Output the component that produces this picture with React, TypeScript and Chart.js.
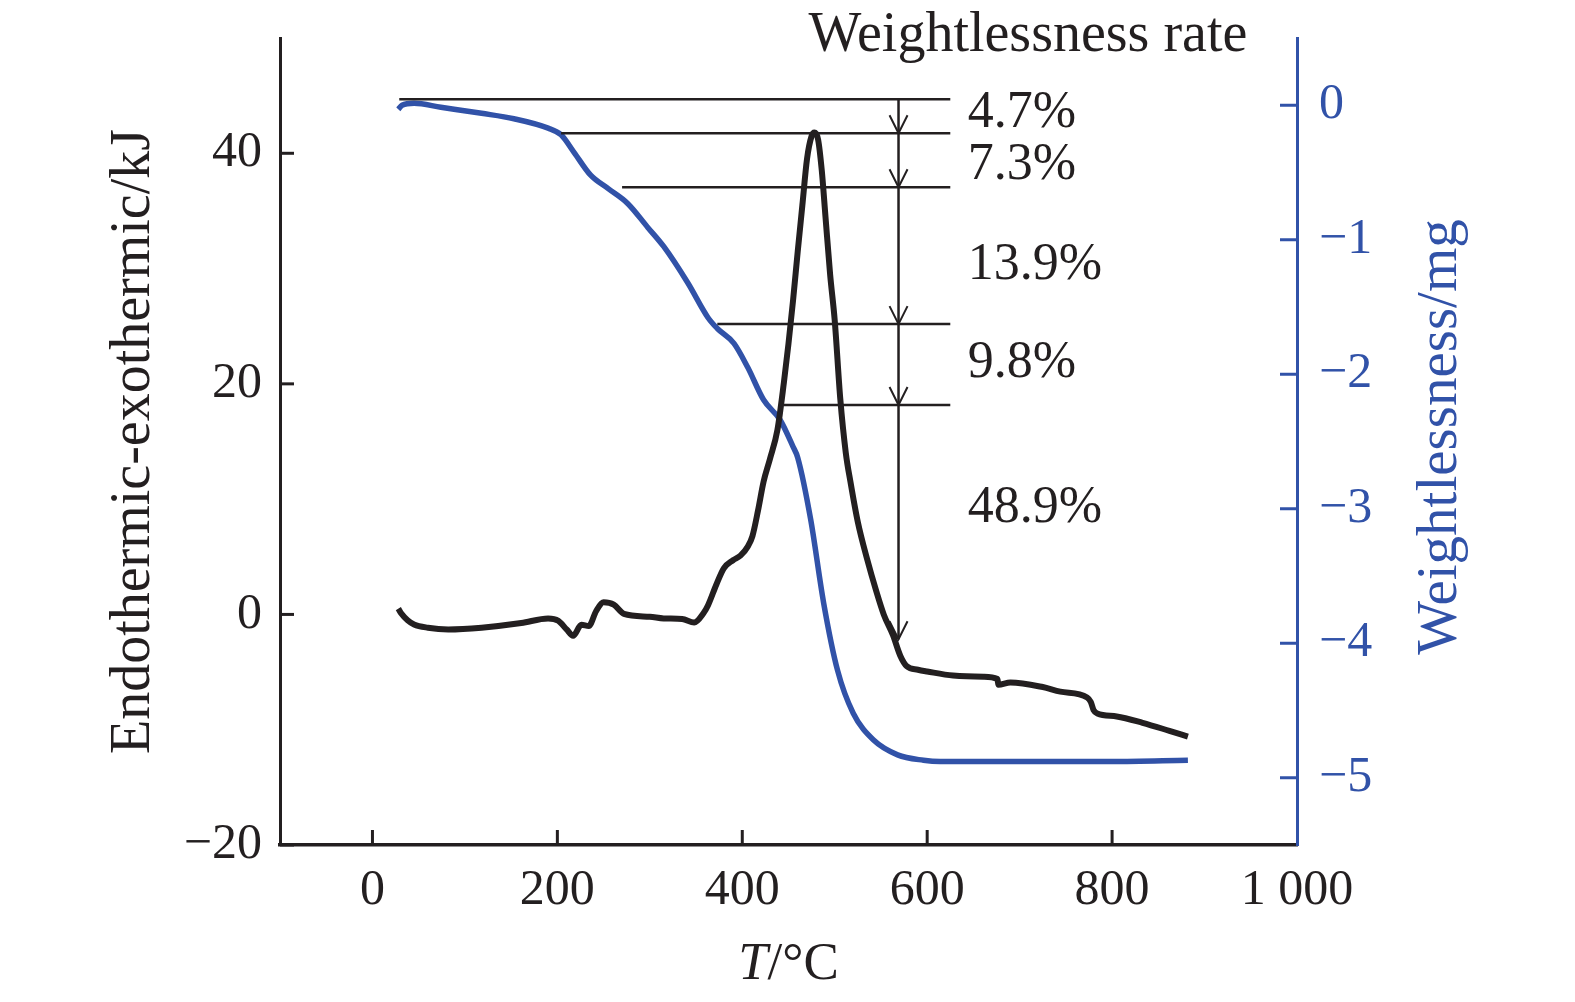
import { useEffect, useRef } from 'react';
import { Chart, registerables } from 'chart.js';

Chart.register(...registerables);

// ---- data ----
// DSC curve (black, left axis): temperature (°C) and heat flow (kJ)
const DSC_T = [28, 31, 38, 45, 60, 82, 118, 161, 190, 201, 210, 217, 226, 234, 242, 250, 261, 272, 300, 315, 335, 348, 358, 363, 372, 380, 390, 398, 406, 411, 417, 423, 430, 438, 445, 450, 455, 460, 465, 470, 475, 478, 482, 486, 490, 495, 500, 506, 512, 517, 525, 535, 545, 553, 563, 571, 578, 590, 600, 628, 661, 676, 677, 690, 725, 744, 773, 777, 780, 784, 805, 833, 862, 882];
const DSC_KJ = [0.5, 0.1, -0.5, -0.87, -1.15, -1.3, -1.15, -0.75, -0.35, -0.55, -1.3, -1.85, -0.9, -1.0, 0.3, 1.05, 0.85, 0.05, -0.2, -0.35, -0.4, -0.7, 0.1, 0.8, 2.6, 4.0, 4.7, 5.1, 5.9, 6.8, 9.0, 11.5, 13.5, 16.0, 20.1, 23.5, 27.3, 31.5, 35.5, 39.5, 41.5, 41.8, 41.2, 38.5, 34.5, 29.5, 25.5, 18.7, 14.0, 11.5, 8.0, 4.8, 2.0, 0.0, -1.8, -3.6, -4.5, -4.8, -4.95, -5.3, -5.4, -5.6, -6.1, -5.9, -6.3, -6.7, -7.2, -7.6, -8.3, -8.6, -8.85, -9.4, -10.1, -10.6];

// TG curve (blue, right axis): temperature (°C) and weight change (mg)
const TG_T = [28, 32, 45, 74, 118, 153, 190, 204, 218, 236, 255, 276, 298, 315, 341, 363, 373, 391, 406, 423, 441, 455, 460, 474, 488, 503, 520, 542, 568, 596, 614, 700, 800, 882];
const TG_MG = [-0.03, 0.0, 0.015, -0.015, -0.06, -0.1, -0.17, -0.22, -0.35, -0.52, -0.62, -0.73, -0.91, -1.05, -1.32, -1.58, -1.66, -1.77, -1.95, -2.19, -2.34, -2.54, -2.62, -3.08, -3.7, -4.2, -4.52, -4.72, -4.83, -4.87, -4.88, -4.88, -4.88, -4.87];

// tick values
const X_TICKS = [0, 200, 400, 600, 800, 1000];
const Y_TICKS = [-20, 0, 20, 40];
const Y2_TICKS = [-5, -4, -3, -2, -1, 0];

// weight-loss step levels (mg) and where each guide line starts (°C)
const LEVEL_MG = [0.045, -0.208, -0.61, -1.627, -2.229];
const LEVEL_START_T = [29, 204, 270, 373, 445];
const LEVEL_END_T = 625;
const ARROW_T = 569;
const ARROW_END_MG = -3.97;
const RATE_LABELS = ['4.7%', '7.3%', '13.9%', '9.8%', '48.9%'];
const RATE_TITLE = 'Weightlessness rate';

const X_TITLE_ITALIC = 'T';
const X_TITLE_REST = '/°C';
const Y_TITLE = 'Endothermic-exothermic/kJ';
const Y2_TITLE = 'Weightlessness/mg';

// ---- layout / style (not data) ----
const LABEL_POS_MG = [-0.06, -0.446, -1.19, -1.917, -2.994];
const LABEL_X_T = 644;
const TITLE_X_T = 709;
const TITLE_Y_MG = 0.51;

const FONT = "'Liberation Serif', 'Times New Roman', serif";
const INK = '#231f20';
const BLUE = '#3152a8';

const fmt = (v: number) => {
  if (v === 1000) return '1 000';
  return v < 0 ? '\u2212' + String(Math.abs(v)) : String(v);
};

const overlay = {
  id: 'overlay',
  afterDraw(chart: any) {
    const { ctx, chartArea } = chart;
    const x = chart.scales.x;
    const y2 = chart.scales.y2;
    const y = chart.scales.y;
    const seg = (x0: number, y0: number, x1: number, y1: number) => {
      ctx.beginPath();
      ctx.moveTo(x0, y0);
      ctx.lineTo(x1, y1);
      ctx.stroke();
    };
    ctx.save();
    ctx.lineCap = 'butt';
    // inward tick marks
    ctx.strokeStyle = INK;
    ctx.lineWidth = 3;
    x.ticks.forEach((t: any) => {
      if (t.value >= 1000) return;
      const px = x.getPixelForValue(t.value);
      seg(px, chartArea.bottom, px, chartArea.bottom - 15);
    });
    y.ticks.forEach((t: any) => {
      const py = y.getPixelForValue(t.value);
      seg(chartArea.left, py, chartArea.left + 14, py);
    });
    ctx.strokeStyle = BLUE;
    y2.ticks.forEach((t: any) => {
      const py = y2.getPixelForValue(t.value);
      seg(chartArea.right, py, chartArea.right - 17, py);
    });

    // guide lines
    ctx.strokeStyle = INK;
    ctx.lineWidth = 2.5;
    const xEnd = x.getPixelForValue(LEVEL_END_T);
    const ax = x.getPixelForValue(ARROW_T);
    LEVEL_MG.forEach((w, i) => {
      const py = y2.getPixelForValue(w);
      seg(x.getPixelForValue(LEVEL_START_T[i]), py, xEnd, py);
    });
    const yTop = y2.getPixelForValue(LEVEL_MG[0]);
    const yBot = y2.getPixelForValue(ARROW_END_MG);
    seg(ax, yTop, ax, yBot);
    const heads = LEVEL_MG.slice(1).concat([ARROW_END_MG]);
    ctx.lineWidth = 2;
    heads.forEach((w) => {
      const py = y2.getPixelForValue(w);
      ctx.beginPath();
      ctx.moveTo(ax - 9, py - 18);
      ctx.lineTo(ax, py);
      ctx.lineTo(ax + 9, py - 18);
      ctx.stroke();
    });

    // labels
    ctx.fillStyle = INK;
    ctx.font = `52px ${FONT}`;
    ctx.textAlign = 'left';
    ctx.textBaseline = 'middle';
    const lx = x.getPixelForValue(LABEL_X_T);
    RATE_LABELS.forEach((s, i) => {
      ctx.fillText(s, lx, y2.getPixelForValue(LABEL_POS_MG[i]));
    });
    ctx.textAlign = 'center';
    ctx.font = `56px ${FONT}`;
    ctx.fillText(RATE_TITLE, x.getPixelForValue(TITLE_X_T), y2.getPixelForValue(TITLE_Y_MG));

    // x axis title with italic T
    const cx = (chartArea.left + chartArea.right) / 2;
    const ty = 965;
    ctx.font = `italic 53px ${FONT}`;
    const wT = ctx.measureText(X_TITLE_ITALIC).width;
    ctx.font = `53px ${FONT}`;
    const wR = ctx.measureText(X_TITLE_REST).width;
    const start = cx - (wT + wR) / 2;
    ctx.textAlign = 'left';
    ctx.font = `italic 53px ${FONT}`;
    ctx.fillText(X_TITLE_ITALIC, start, ty);
    ctx.font = `53px ${FONT}`;
    ctx.fillText(X_TITLE_REST, start + wT, ty);

    // right axis title, reading bottom to top
    ctx.save();
    ctx.translate(1441, 437);
    ctx.rotate(-Math.PI / 2);
    ctx.textAlign = 'center';
    ctx.fillStyle = BLUE;
    ctx.font = `57px ${FONT}`;
    ctx.fillText(Y2_TITLE, 0, 0);
    ctx.restore();

    ctx.restore();
  },
};

const noPad = (s: any) => {
  s.paddingTop = 0;
  s.paddingBottom = 0;
  s.paddingLeft = 0;
  s.paddingRight = 0;
};

export default function App() {
  const ref = useRef<HTMLCanvasElement | null>(null);
  useEffect(() => {
    document.body.style.margin = '0';
    const canvas = ref.current;
    if (!canvas) return;
    const chart = new Chart(canvas, {
      type: 'line',
      data: {
        datasets: [
          {
            label: 'DSC',
            data: DSC_T.map((t, i) => ({ x: t, y: DSC_KJ[i] })),
            borderColor: INK,
            borderWidth: 6,
            pointRadius: 0,
            cubicInterpolationMode: 'monotone',
            yAxisID: 'y',
            fill: false,
          },
          {
            label: 'TG',
            data: TG_T.map((t, i) => ({ x: t, y: TG_MG[i] })),
            borderColor: BLUE,
            borderWidth: 5.5,
            pointRadius: 0,
            cubicInterpolationMode: 'monotone',
            yAxisID: 'y2',
            fill: false,
          },
        ],
      },
      options: {
        animation: false,
        responsive: false,
        devicePixelRatio: 1,
        layout: { padding: { top: 38, left: 0, right: 0, bottom: 0 } },
        plugins: { legend: { display: false }, tooltip: { enabled: false } },
        scales: {
          x: {
            type: 'linear',
            min: -100,
            max: 1000,
            afterBuildTicks: (s: any) => { s.ticks = X_TICKS.map((v) => ({ value: v })); },
            ticks: {
              callback: (v: any) => fmt(Number(v)),
              font: { family: FONT, size: 50 },
              color: INK,
              padding: 16,
            },
            grid: { display: false, drawTicks: false },
            border: { display: true, color: INK, width: 3.5 },
            afterFit: (s: any) => { s.height = 157; noPad(s); },
          },
          y: {
            type: 'linear',
            position: 'left',
            min: -20,
            max: 50,
            afterBuildTicks: (s: any) => { s.ticks = Y_TICKS.map((v) => ({ value: v })); },
            ticks: {
              callback: (v: any) => fmt(Number(v)),
              font: { family: FONT, size: 50 },
              color: INK,
              padding: 18,
            },
            grid: { display: false, drawTicks: false },
            border: { display: true, color: INK, width: 3 },
            title: {
              display: true,
              text: Y_TITLE,
              font: { family: FONT, size: 56 },
              color: INK,
              padding: { top: 101, bottom: 0 },
            },
            afterFit: (s: any) => { s.width = 280; noPad(s); },
          },
          y2: {
            type: 'linear',
            position: 'right',
            min: -5.5,
            max: 0.5,
            afterBuildTicks: (s: any) => { s.ticks = Y2_TICKS.map((v) => ({ value: v })); },
            ticks: {
              callback: (v: any) => fmt(Number(v)),
              font: { family: FONT, size: 50 },
              color: BLUE,
              padding: 22,
            },
            grid: { display: false, drawTicks: false },
            border: { display: true, color: BLUE, width: 3 },
            afterFit: (s: any) => { s.width = 278; noPad(s); },
          },
        },
      },
      plugins: [overlay],
    } as any);
    return () => chart.destroy();
  }, []);
  return (
    <div style={{ width: 1575, height: 1002, background: '#fff' }}>
      <canvas ref={ref} width={1575} height={1002} style={{ display: 'block', width: 1575, height: 1002 }} />
    </div>
  );
}
